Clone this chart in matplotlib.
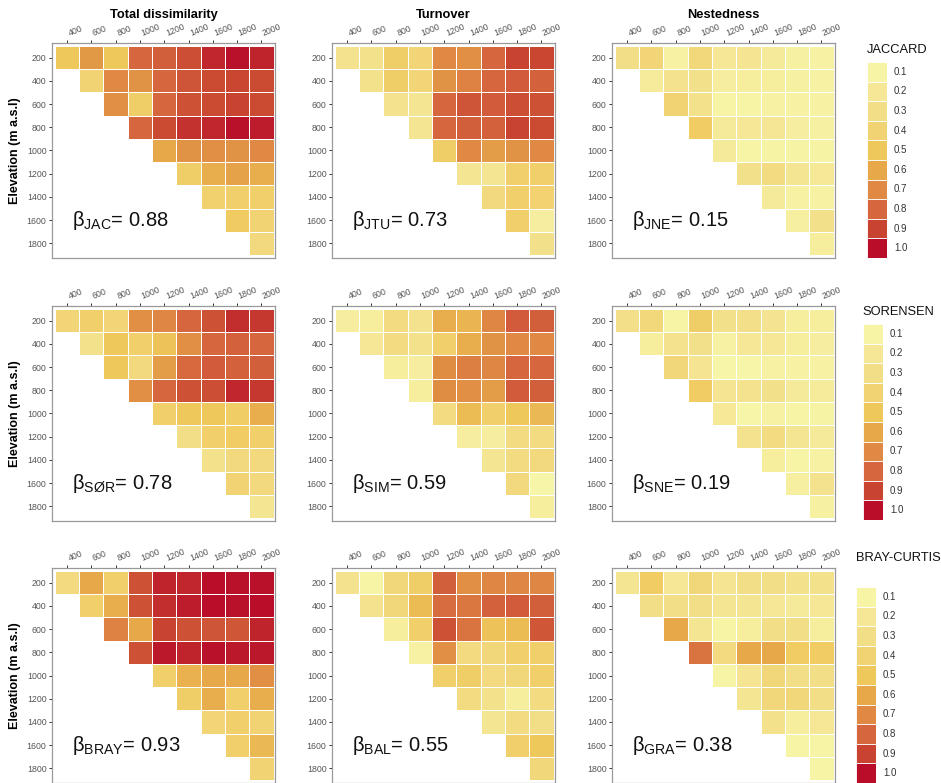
import numpy as np
import matplotlib
matplotlib.use("Agg")
import matplotlib.pyplot as plt
from matplotlib.colors import LinearSegmentedColormap, Normalize

plt.rcParams['font.family'] = ['Liberation Sans', 'DejaVu Sans']
plt.rcParams['mathtext.fontset'] = 'custom'
plt.rcParams['mathtext.rm'] = 'Liberation Sans'
plt.rcParams['mathtext.it'] = 'Liberation Sans:italic'
plt.rcParams['mathtext.bf'] = 'Liberation Sans:bold'

# ---------------- data ----------------
row_elev = [200, 400, 600, 800, 1000, 1200, 1400, 1600, 1800]
col_elev = [400, 600, 800, 1000, 1200, 1400, 1600, 1800, 2000]

col_titles = ["Total dissimilarity", "Turnover", "Nestedness"]
legend_titles = ["JACCARD", "SORENSEN", "BRAY-CURTIS"]
legend_levels = [0.1, 0.2, 0.3, 0.4, 0.5, 0.6, 0.7, 0.8, 0.9, 1.0]
legend_labels = ["0.1", "0.2", "0.3", "0.4", "0.5", "0.6", "0.7", "0.8", "0.9", "1.0"]
beta_names = [["JAC", "JTU", "JNE"], ["SØR", "SIM", "SNE"], ["BRAY", "BAL", "GRA"]]
beta_values = [["0.88", "0.73", "0.15"], ["0.78", "0.59", "0.19"], ["0.93", "0.55", "0.38"]]

# upper-triangular matrices, row i holds columns i..8
jac = [
    [0.50, 0.65, 0.50, 0.80, 0.82, 0.87, 0.95, 0.99, 0.96],
    [0.40, 0.70, 0.67, 0.80, 0.85, 0.88, 0.89, 0.88],
    [0.68, 0.45, 0.80, 0.86, 0.88, 0.90, 0.88],
    [0.80, 0.88, 0.93, 0.95, 0.99, 0.97],
    [0.60, 0.67, 0.68, 0.67, 0.70],
    [0.45, 0.58, 0.62, 0.58],
    [0.42, 0.44, 0.44],
    [0.48, 0.40],
    [0.35],
]
jtu = [
    [0.25, 0.27, 0.45, 0.38, 0.70, 0.68, 0.80, 0.90, 0.89],
    [0.27, 0.45, 0.38, 0.67, 0.72, 0.80, 0.83, 0.81],
    [0.25, 0.23, 0.80, 0.85, 0.83, 0.87, 0.86],
    [0.23, 0.80, 0.82, 0.81, 0.90, 0.88],
    [0.45, 0.70, 0.64, 0.67, 0.70],
    [0.23, 0.23, 0.43, 0.43],
    [0.35, 0.43, 0.41],
    [0.43, 0.15],
    [0.28],
]
jne = [
    [0.30, 0.38, 0.12, 0.36, 0.20, 0.22, 0.18, 0.13, 0.12],
    [0.17, 0.25, 0.28, 0.15, 0.16, 0.16, 0.13, 0.12],
    [0.40, 0.27, 0.10, 0.10, 0.12, 0.12, 0.12],
    [0.47, 0.18, 0.20, 0.21, 0.15, 0.13],
    [0.18, 0.10, 0.11, 0.11, 0.11],
    [0.28, 0.33, 0.23, 0.19],
    [0.18, 0.12, 0.12],
    [0.14, 0.28],
    [0.16],
]
sor = [
    [0.38, 0.43, 0.38, 0.68, 0.71, 0.80, 0.86, 0.94, 0.92],
    [0.27, 0.50, 0.44, 0.52, 0.68, 0.80, 0.81, 0.80],
    [0.50, 0.35, 0.64, 0.79, 0.83, 0.81, 0.82],
    [0.68, 0.80, 0.86, 0.87, 0.95, 0.92],
    [0.43, 0.50, 0.50, 0.46, 0.58],
    [0.30, 0.43, 0.47, 0.43],
    [0.27, 0.35, 0.35],
    [0.40, 0.35],
    [0.23],
]
sim = [
    [0.15, 0.16, 0.33, 0.25, 0.58, 0.56, 0.71, 0.83, 0.82],
    [0.20, 0.33, 0.27, 0.44, 0.58, 0.67, 0.70, 0.70],
    [0.16, 0.15, 0.69, 0.73, 0.71, 0.80, 0.80],
    [0.16, 0.69, 0.68, 0.64, 0.83, 0.82],
    [0.33, 0.54, 0.44, 0.50, 0.55],
    [0.15, 0.15, 0.33, 0.33],
    [0.23, 0.33, 0.35],
    [0.35, 0.08],
    [0.16],
]
sne = [
    [0.29, 0.36, 0.10, 0.45, 0.28, 0.29, 0.24, 0.16, 0.16],
    [0.16, 0.26, 0.28, 0.12, 0.20, 0.20, 0.16, 0.15],
    [0.37, 0.22, 0.08, 0.08, 0.12, 0.12, 0.12],
    [0.47, 0.22, 0.26, 0.28, 0.18, 0.17],
    [0.19, 0.08, 0.12, 0.10, 0.11],
    [0.26, 0.33, 0.23, 0.18],
    [0.16, 0.10, 0.12],
    [0.14, 0.26],
    [0.13],
]
bray = [
    [0.34, 0.60, 0.44, 0.86, 0.96, 0.95, 1.00, 0.99, 0.99],
    [0.44, 0.58, 0.86, 0.94, 0.97, 1.00, 0.99, 1.00],
    [0.72, 0.60, 0.90, 0.86, 0.85, 0.84, 0.96],
    [0.86, 0.98, 0.96, 0.99, 0.98, 0.98],
    [0.44, 0.57, 0.60, 0.60, 0.68],
    [0.45, 0.58, 0.44, 0.58],
    [0.38, 0.43, 0.40],
    [0.43, 0.55],
    [0.40],
]
bal = [
    [0.25, 0.10, 0.37, 0.45, 0.82, 0.68, 0.71, 0.71, 0.71],
    [0.25, 0.37, 0.54, 0.78, 0.75, 0.81, 0.83, 0.82],
    [0.16, 0.44, 0.86, 0.76, 0.52, 0.54, 0.84],
    [0.12, 0.68, 0.34, 0.37, 0.43, 0.43],
    [0.43, 0.45, 0.34, 0.37, 0.43],
    [0.33, 0.27, 0.16, 0.33],
    [0.23, 0.33, 0.30],
    [0.43, 0.50],
    [0.37],
]
gra = [
    [0.23, 0.47, 0.20, 0.37, 0.22, 0.30, 0.30, 0.27, 0.27],
    [0.30, 0.30, 0.30, 0.23, 0.23, 0.20, 0.18, 0.20],
    [0.60, 0.23, 0.10, 0.16, 0.30, 0.30, 0.16],
    [0.76, 0.34, 0.60, 0.60, 0.47, 0.47],
    [0.10, 0.22, 0.37, 0.30, 0.30],
    [0.23, 0.37, 0.37, 0.30],
    [0.27, 0.16, 0.20],
    [0.10, 0.10],
    [0.10],
]
panels = [[jac, jtu, jne], [sor, sim, sne], [bray, bal, gra]]

# ---------------- styling ----------------
level_colors = ['#f7f4a6', '#f5e796', '#f3de88', '#f2d373', '#efc95c',
                '#e6a849', '#df8a44', '#d5663e', '#c84430', '#b90d2a']
cmap = LinearSegmentedColormap.from_list(
    "yor", [(0.0, '#f8f7ac')] + [(v, c) for v, c in zip(legend_levels, level_colors)])
norm = Normalize(0, 1)

W, H = 941, 783
fig = plt.figure(figsize=(W / 100, H / 100), dpi=100)

def px_rect(left, top, width, height):
    return [left / W, 1 - (top + height) / H, width / W, height / H]

col_left = [52, 332, 612]
row_top = [43, 306, 568]
pw, ph = 223, 215

for r in range(3):
    for c in range(3):
        ax = fig.add_axes(px_rect(col_left[c], row_top[r], pw, ph))
        data = panels[r][c]
        M = np.full((9, 9), np.nan)
        for i, row in enumerate(data):
            M[i, i:i + len(row)] = row
        Mm = np.ma.masked_invalid(M)
        edges = np.arange(10) - 0.5
        ax.pcolormesh(edges, edges, Mm, cmap=cmap, norm=norm,
                      edgecolors='white', linewidth=0.5)
        ax.set_xlim(-0.62, 8.56)
        ax.set_ylim(8.63, -0.63)
        ax.xaxis.tick_top()
        ax.set_xticks(range(9))
        ax.set_xticklabels([str(v) for v in col_elev], rotation=22,
                           ha='left', fontsize=6.3, color='#555555')
        ax.set_yticks(range(9))
        ax.set_yticklabels([str(v) for v in row_elev], fontsize=6.3, color='#555555')
        ax.tick_params(axis='both', length=2.5, width=0.7, color='#333333', pad=1.5)
        for s in ax.spines.values():
            s.set_color('#999999')
            s.set_linewidth(0.9)
        ax.text(0.2, 7.0,
                r"$\mathregular{\beta_{%s}}$= %s" % (beta_names[r][c], beta_values[r][c]),
                fontsize=14.5, ha='left', va='center', color='#111111')
        if r == 0:
            fig.text((col_left[c] + pw / 2) / W, 1 - 15 / H, col_titles[c],
                     ha='center', va='center', fontsize=9.3, fontweight='bold')
        if c == 0:
            fig.text(15 / W, 1 - (row_top[r] + ph / 2) / H, "Elevation (m a.s.l)",
                     rotation=90, ha='center', va='center', fontsize=9,
                     fontweight='bold')

# ---------------- legends ----------------
leg_title_pos = [(867, 50), (862, 312), (856, 558)]
leg_bar = [(867, 62), (863, 324), (856, 587)]
bar_w, box_h = 20, 19.6
for r in range(3):
    tx, ty = leg_title_pos[r]
    fig.text(tx / W, 1 - ty / H, legend_titles[r], ha='left', va='center',
             fontsize=9.3, color='#111111')
    bx, by = leg_bar[r]
    lax = fig.add_axes(px_rect(bx, by, bar_w, box_h * 10))
    lax.barh(range(10), [1] * 10, height=1.0, left=0,
             color=[cmap(norm(v)) for v in legend_levels],
             edgecolor='white', linewidth=0.6)
    lax.set_xlim(0, 1)
    lax.set_ylim(9.5, -0.5)
    lax.axis('off')
    for k, lab in enumerate(legend_labels):
        lax.text(1.35, k, lab, transform=lax.get_yaxis_transform(),
                 ha='left', va='center', fontsize=7, color='#333333')

fig.savefig("out.png", dpi=100)
